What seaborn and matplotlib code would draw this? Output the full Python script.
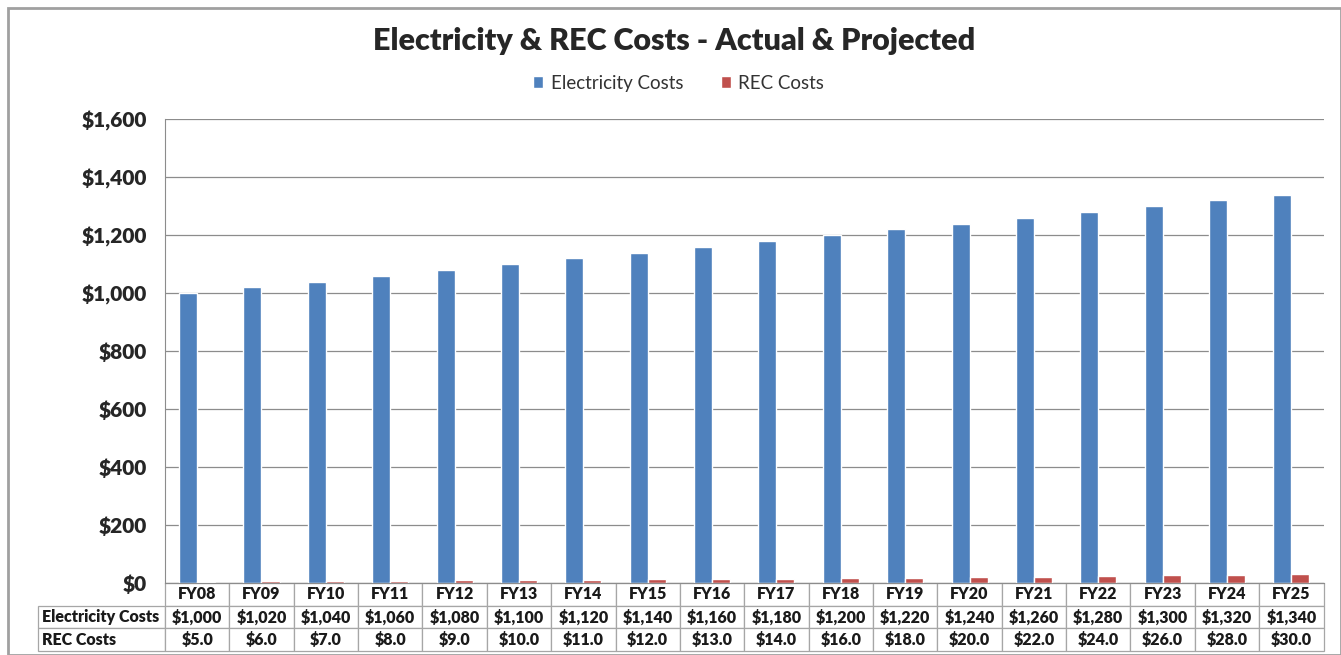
import matplotlib
matplotlib.use("Agg")
import matplotlib.pyplot as plt
import seaborn as sns
import pandas as pd
from matplotlib.patches import Rectangle

# data
years = ["FY08", "FY09", "FY10", "FY11", "FY12", "FY13", "FY14", "FY15", "FY16",
         "FY17", "FY18", "FY19", "FY20", "FY21", "FY22", "FY23", "FY24", "FY25"]
elec_costs = [1000, 1020, 1040, 1060, 1080, 1100, 1120, 1140, 1160,
              1180, 1200, 1220, 1240, 1260, 1280, 1300, 1320, 1340]
rec_costs = [5, 6, 7, 8, 9, 10, 11, 12, 13, 14, 16, 18, 20, 22, 24, 26, 28, 30]
y_ticks = [0, 200, 400, 600, 800, 1000, 1200, 1400, 1600]

sns.set_style("white")
plt.rcParams["font.family"] = ["Lato", "DejaVu Sans"]

df = pd.DataFrame({"year": years * 2,
                   "cost": elec_costs + rec_costs,
                   "series": ["Electricity Costs"] * len(years) + ["REC Costs"] * len(years)})

fig = plt.figure(figsize=(13.41, 6.55), dpi=100)
ax = fig.add_axes([0.123, 0.110, 0.864, 0.708])

sns.barplot(data=df, x="year", y="cost", hue="series", ax=ax,
            palette=["#4F81BD", "#C0504D"], width=0.56, saturation=1,
            gap=0, legend=True)

ax.set_ylim(0, 1600)
ax.set_yticks(y_ticks)
ax.set_yticklabels(["${:,}".format(v) for v in y_ticks], fontsize=15, fontweight="heavy")
ax.set_xticks([])
ax.set_xlabel("")
ax.set_ylabel("")
ax.yaxis.grid(True, color="#8c8c8c", linewidth=0.9)
ax.set_axisbelow(True)
for s in ["top", "right"]:
    ax.spines[s].set_visible(False)
ax.spines["left"].set_color("#8c8c8c")
ax.spines["bottom"].set_color("#8c8c8c")
ax.tick_params(axis="y", length=5, color="#8c8c8c", direction="out", pad=8)

fig.suptitle("Electricity & REC Costs - Actual & Projected", fontsize=22,
             fontweight="heavy", x=0.503, y=0.937, va="center")

handles, labels = ax.get_legend_handles_labels()
ax.get_legend().remove()
fig.legend(handles, labels, loc="center", bbox_to_anchor=(0.506, 0.873), ncol=2,
           frameon=False, fontsize=13.5, handlelength=0.55, handleheight=0.55,
           columnspacing=2.0, handletextpad=0.4, labelcolor="#333333")

# data table beneath the bars
cell_text = [[""] + years,
             ["Electricity Costs"] + ["${:,}".format(v) for v in elec_costs],
             ["REC Costs"] + ["${:.1f}".format(v) for v in rec_costs]]
col_w = [127] + [64.4] * len(years)
tbl = ax.table(cellText=cell_text, colWidths=col_w, cellLoc="center",
               bbox=[-0.1095, -0.147, 1.1095, 0.147])
tbl.auto_set_font_size(False)
tbl.set_fontsize(11.5)
for (r, c), cell in tbl.get_celld().items():
    cell.set_edgecolor("#a6a6a6")
    cell.set_linewidth(0.9)
    cell.set_text_props(fontweight="heavy", color="#1a1a1a")
    if c == 0:
        cell.get_text().set_ha("left")
        cell.PAD = 0.03
    if r == 0 and c == 0:
        cell.set_linewidth(0)

fig.patches.append(Rectangle((0.006, 0.0), 0.994, 0.988, transform=fig.transFigure,
                             fill=False, edgecolor="#a0a0a0", linewidth=2))

fig.savefig("out.png", dpi=100)
